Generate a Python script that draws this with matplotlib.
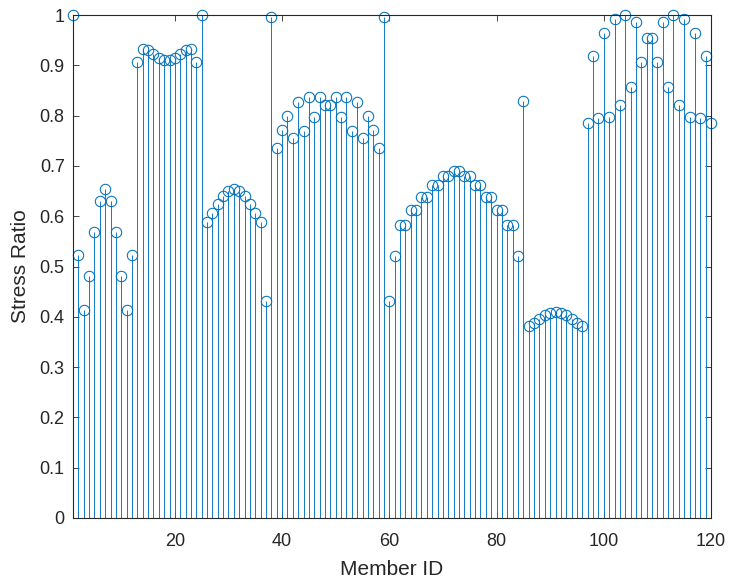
import matplotlib
matplotlib.use("Agg")
import matplotlib.pyplot as plt
import numpy as np

plt.rcParams['font.family'] = ['Liberation Sans', 'DejaVu Sans']

member_ids = list(range(1, 121))
stress_ratio = [
    1.000, 0.522, 0.413, 0.482, 0.568, 0.630, 0.655, 0.630, 0.568, 0.482,
    0.413, 0.522, 0.906, 0.933, 0.930, 0.922, 0.914, 0.910, 0.910, 0.914,
    0.922, 0.930, 0.933, 0.906, 1.000, 0.588, 0.607, 0.625, 0.640, 0.650,
    0.655, 0.650, 0.640, 0.625, 0.607, 0.588, 0.431, 0.997, 0.736, 0.771,
    0.800, 0.755, 0.828, 0.770, 0.838, 0.798, 0.838, 0.822, 0.822, 0.838,
    0.798, 0.838, 0.770, 0.828, 0.755, 0.800, 0.771, 0.736, 0.997, 0.431,
    0.520, 0.582, 0.582, 0.612, 0.612, 0.638, 0.638, 0.662, 0.662, 0.680,
    0.680, 0.690, 0.690, 0.680, 0.680, 0.662, 0.662, 0.638, 0.638, 0.612,
    0.612, 0.582, 0.582, 0.520, 0.830, 0.382, 0.388, 0.396, 0.403, 0.408,
    0.410, 0.408, 0.403, 0.396, 0.388, 0.382, 0.785, 0.918, 0.795, 0.965,
    0.798, 0.992, 0.821, 1.000, 0.858, 0.987, 0.907, 0.954, 0.954, 0.907,
    0.987, 0.858, 1.000, 0.821, 0.992, 0.798, 0.965, 0.795, 0.918, 0.785,
]
x_ticks = [20, 40, 60, 80, 100, 120]
y_ticks = [0, 0.1, 0.2, 0.3, 0.4, 0.5, 0.6, 0.7, 0.8, 0.9, 1]
y_tick_labels = ['0', '0.1', '0.2', '0.3', '0.4', '0.5', '0.6', '0.7', '0.8', '0.9', '1']

color = '#0072BD'
axc = '#262626'

fig = plt.figure(figsize=(7.3, 5.82), dpi=100)
ax = fig.add_axes([0.100, 0.110, 0.874, 0.864])

markerline, stemlines, baseline = ax.stem(member_ids, stress_ratio, basefmt=' ')
plt.setp(stemlines, color=color, linewidth=0.65)
plt.setp(markerline, color=color, marker='o', markersize=7.5,
         markerfacecolor='none', markeredgewidth=0.75, clip_on=False)

ax.set_xlim(1, 120)
ax.set_ylim(0, 1)
ax.set_xticks(x_ticks)
ax.set_yticks(y_ticks)
ax.set_yticklabels(y_tick_labels)

for sp in ax.spines.values():
    sp.set_color(axc)
    sp.set_linewidth(0.8)
ax.tick_params(direction='in', top=True, right=True, length=4, width=0.6,
               colors=axc, labelsize=13)
ax.tick_params(axis='x', pad=11)
ax.tick_params(axis='y', pad=6)
ax.set_xlabel('Member ID', fontsize=15, color=axc, labelpad=7)
ax.set_ylabel('Stress Ratio', fontsize=15, color=axc, labelpad=7)

fig.savefig('out.png', dpi=100)
